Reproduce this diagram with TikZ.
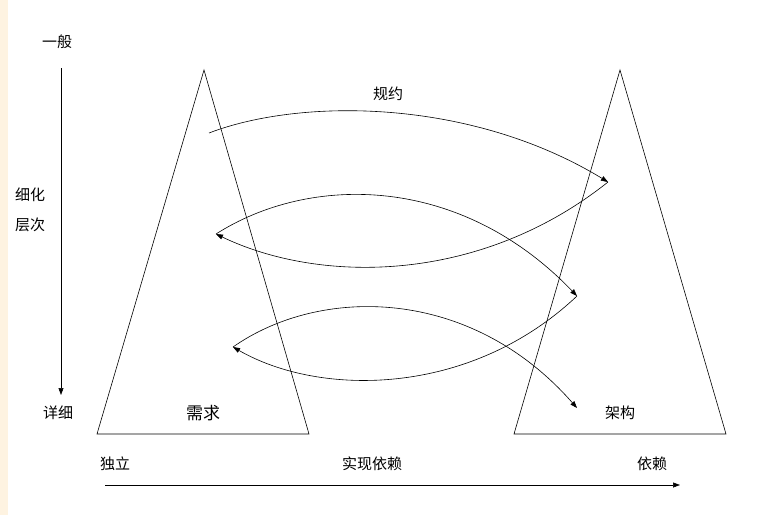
\documentclass[tikz,border=0pt]{standalone}
\usepackage{fontspec}
\newfontfamily\cjk{Noto Sans CJK SC}
\usetikzlibrary{arrows.meta}
\begin{document}
\begin{tikzpicture}[x=1pt,y=-1pt,
  lbl/.style={font=\cjk\fontsize{15}{15}\selectfont,inner sep=0pt},
  arc/.style={draw,line width=0.6pt,-{Triangle[length=7pt,width=5pt]}},
  tri/.style={draw,line width=0.6pt}]
\useasboundingbox (0,0) rectangle (765,515);
\fill[yellow!15!orange!10] (0,0) rectangle (8,515);
\draw[tri] (204,70) -- (309,434) -- (97,434) -- cycle;
\draw[tri] (620,70) -- (726,434) -- (514,434) -- cycle;
\coordinate (a0) at (209,133);
\coordinate (a1) at (608,182);
\coordinate (a2) at (216,234);
\coordinate (a3) at (577,296);
\coordinate (a4) at (233,347);
\coordinate (a5) at (577,408);
\draw[arc] (a0) .. controls (300,98) and (470,98) .. (a1);
\draw[arc] (a1) .. controls (480,284) and (320,284) .. (a2);
\draw[arc] (a2) .. controls (310,174) and (460,174) .. (a3);
\draw[arc] (a3) .. controls (470,397) and (320,397) .. (a4);
\draw[arc] (a4) .. controls (320,286) and (470,286) .. (a5);
\node[lbl] (yb) at (57,42) {一般};
\node[lbl] (xh) at (30,195) {细化};
\node[lbl] (cc) at (30,225) {层次};
\node[lbl] (xx) at (58,413) {详细};
\node[lbl,font=\cjk\fontsize{17}{17}\selectfont] (xq) at (203,413) {需求};
\node[lbl] (jg) at (620,413) {架构};
\node[lbl] (dl) at (115,464) {独立};
\node[lbl] (sx) at (372,464) {实现依赖};
\node[lbl] (yl) at (652,464) {依赖};
\node[lbl] (gy) at (388,94) {规约};
\coordinate (v0) at (61,68);
\coordinate (v1) at (61,395);
\draw[arc] (v0) -- (v1);
\coordinate (h0) at (105,485);
\coordinate (h1) at (680,485);
\draw[arc] (h0) -- (h1);
\end{tikzpicture}
\end{document}
